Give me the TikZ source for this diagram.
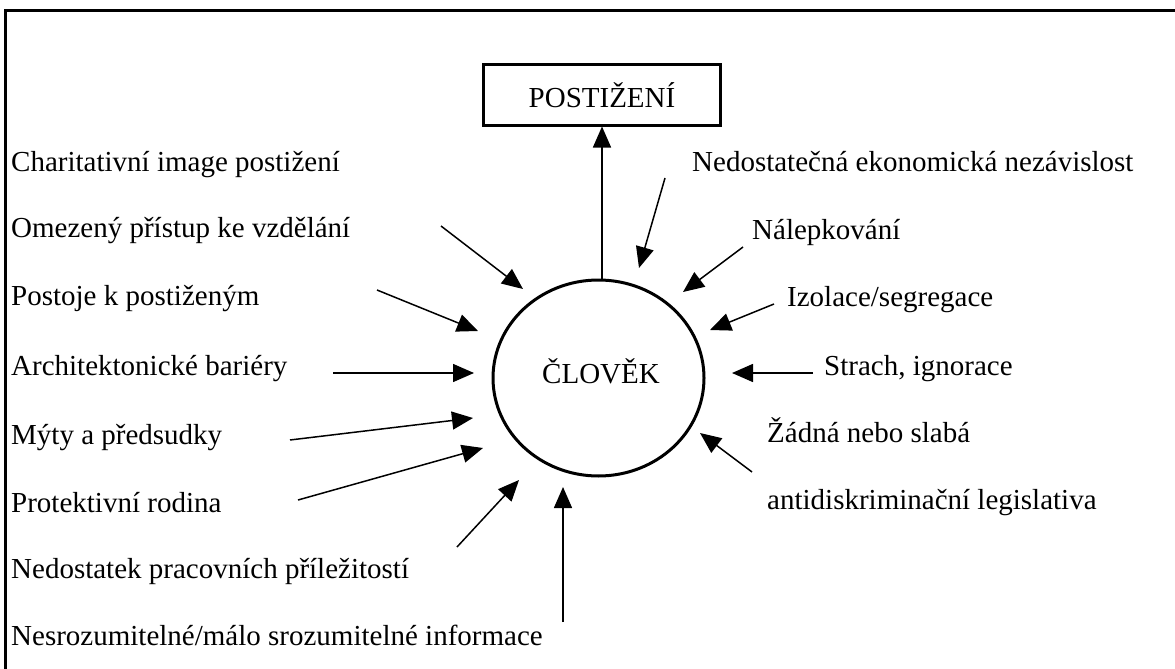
\documentclass[tikz,border=0pt]{standalone}
\usepackage{fontspec}
\setmainfont{Liberation Serif}
\usetikzlibrary{arrows.meta,shapes.geometric}
\begin{document}
\begin{tikzpicture}[x=1pt,y=-1pt,
  lbl/.style={anchor=west,inner sep=0pt,text height=0.7em,text depth=0.25em,font=\fontsize{29}{30}\selectfont},
  arr/.style={line width=1.5pt,-{Triangle[length=21pt,width=18pt]}},
  frameline/.style={line width=3pt}]
\useasboundingbox (0,0) rectangle (1175,669);
\draw[frameline] (5.5,1000) -- (5.5,11) -- (1300,11);
% main nodes
\node[draw,line width=3pt,minimum width=237pt,minimum height=60pt,inner sep=0pt,
  font=\fontsize{29}{30}\selectfont] (post) at (602,95) {POSTIŽENÍ};
\node[ellipse,draw,line width=3pt,minimum width=211pt,minimum height=196pt,inner sep=0pt] (clovek) at (598.5,378) {};
\node[font=\fontsize{29}{30}\selectfont,inner sep=0pt] (clovektext) at (601,371) {ČLOVĚK};
\draw[arr] (post.south |- clovek.north) -- (post.south);
% left labels
\node[lbl] (l1) at (11,169) {Charitativní image postižení};
\node[lbl] (l2) at (11,235) {Omezený přístup ke vzdělání};
\node[lbl] (l3) at (11,303) {Postoje k postiženým};
\node[lbl] (l4) at (11,373) {Architektonické bariéry};
\node[lbl] (l5) at (11,442) {Mýty a předsudky};
\node[lbl] (l6) at (11,510) {Protektivní rodina};
\node[lbl] (l7) at (11,576) {Nedostatek pracovních příležitostí};
\node[lbl] (l8) at (11,643) {Nesrozumitelné/málo srozumitelné informace};
% right labels
\node[lbl] (r1) at (692,169) {Nedostatečná ekonomická nezávislost};
\node[lbl] (r2) at (752,237) {Nálepkování};
\node[lbl] (r3) at (787,304) {Izolace/segregace};
\node[lbl] (r4) at (824,373) {Strach, ignorace};
\node[lbl] (r5) at (767,440) {Žádná nebo slabá};
\node[lbl] (r6) at (767,507) {antidiskriminační legislativa};
% arrow endpoints
\coordinate (s2) at (441,226); \coordinate (t2) at (523,289);
\coordinate (s3) at (377,290); \coordinate (t3) at (478,331);
\coordinate (s4) at (333,373); \coordinate (t4) at (474,373);
\coordinate (s5) at (290,440); \coordinate (t5) at (473,418);
\coordinate (s6) at (298,500); \coordinate (t6) at (483,448);
\coordinate (s7) at (457,547); \coordinate (t7) at (519,480);
\coordinate (s8) at (563,622); \coordinate (t8) at (563,487);
\coordinate (q1) at (665,178); \coordinate (u1) at (639,268);
\coordinate (q2) at (743,247); \coordinate (u2) at (683,292);
\coordinate (q3) at (774,304); \coordinate (u3) at (710,330);
\coordinate (q4) at (813,373); \coordinate (u4) at (732,373);
\coordinate (q5) at (752,472); \coordinate (u5) at (700,433);
\foreach \a/\b in {s2/t2,s3/t3,s4/t4,s5/t5,s6/t6,s7/t7,s8/t8,q1/u1,q2/u2,q3/u3,q4/u4,q5/u5}
  \draw[arr] (\a) -- (\b);
\end{tikzpicture}
\end{document}
